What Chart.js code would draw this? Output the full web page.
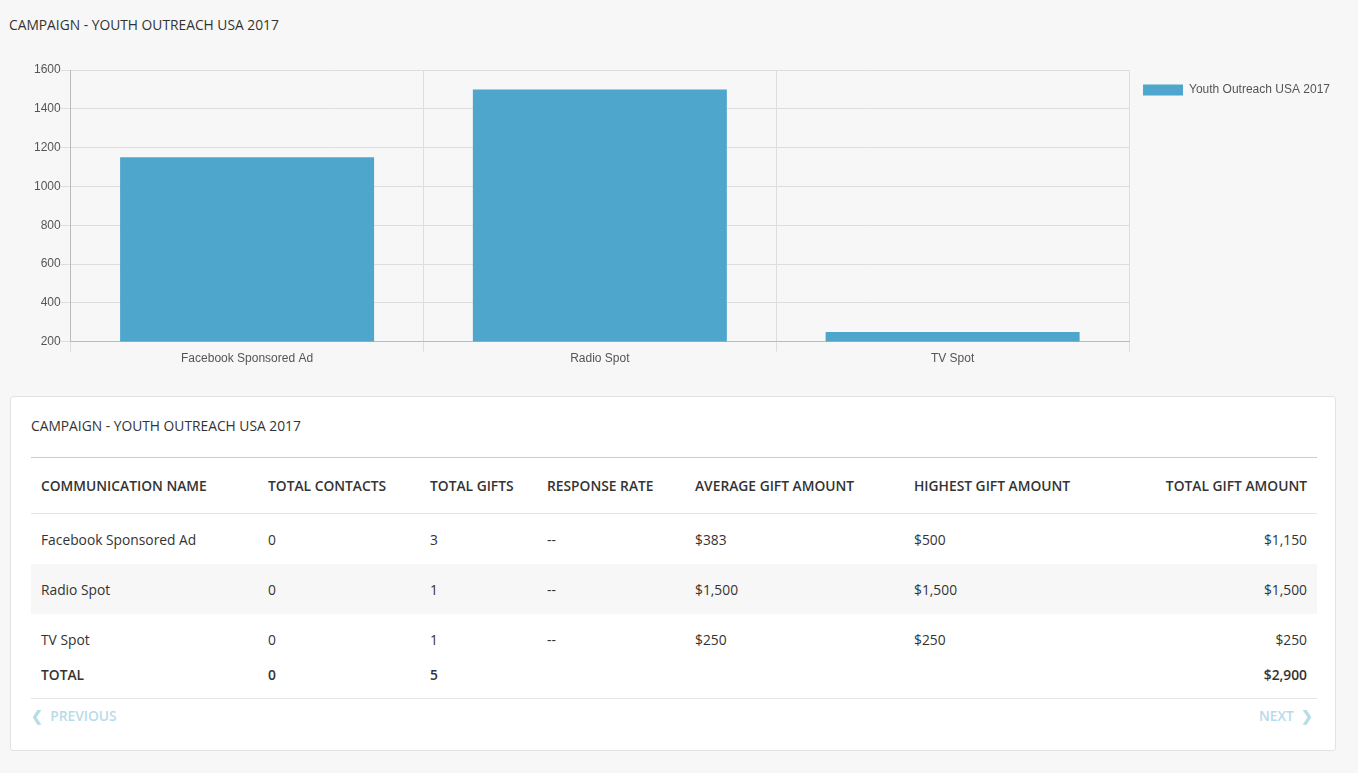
<!DOCTYPE html>
<html>
<head>
<meta charset="utf-8">
<script src="https://cdn.jsdelivr.net/npm/chart.js@4"></script>
<style>
  body { margin: 0; background: #f7f7f7; font-family: "Open Sans", sans-serif; color: #333; width: 1358px; height: 773px; position: relative; overflow: hidden; }
  .title { position: absolute; left: 9px; top: 15px; font-size: 13.8px; }
  #chartBox { position: absolute; left: 10px; top: 60px; width: 1330px; height: 306px; }
  .card { position: absolute; left: 10px; top: 396px; width: 1326px; height: 355px; background: #fff; border: 1px solid #e3e3e3; border-radius: 3px; box-sizing: border-box; }
  .card h3 { margin: 0; position: absolute; left: 20px; top: 19px; font-size: 13.8px; font-weight: normal; }
  table { position: absolute; left: 20px; top: 60px; width: 1286px; border-collapse: collapse; font-size: 13.8px; border-top: 1px solid #ccc; }
  th { text-align: left; font-weight: 600; height: 55px; padding: 0 10px; border-bottom: 1px solid #e5e5e5; white-space: nowrap; }
  td { height: 50px; padding: 0 10px; }
  tr.alt td { background: #f7f7f7; }
  tr.total td { font-weight: 600; height: 20px; padding-bottom: 4px; }
  .r { text-align: right; }
  .pager { position: absolute; left: 20px; top: 301px; width: 1286px; border-top: 1px solid #e5e5e5; font-size: 13.8px; color: #b7dbea; font-weight: 600; padding-top: 7px; }
  .pager .n { position: absolute; right: 4px; top: 7px; }
</style>
</head>
<body>
<div class="title">CAMPAIGN - YOUTH OUTREACH USA 2017</div>
<div id="chartBox"><canvas id="c"></canvas></div>
<div class="card">
  <h3>CAMPAIGN - YOUTH OUTREACH USA 2017</h3>
  <table id="tbl"></table>
  <div class="pager"><span>&#10094;&nbsp; PREVIOUS</span><span class="n">NEXT &nbsp;&#10095;</span></div>
</div>
<script>
const categories = ["Facebook Sponsored Ad", "Radio Spot", "TV Spot"];
const seriesName = "Youth Outreach USA 2017";
const giftTotals = [1150, 1500, 250];
const yTicks = [200, 400, 600, 800, 1000, 1200, 1400, 1600];

const headers = ["COMMUNICATION NAME", "TOTAL CONTACTS", "TOTAL GIFTS", "RESPONSE RATE", "AVERAGE GIFT AMOUNT", "HIGHEST GIFT AMOUNT", "TOTAL GIFT AMOUNT"];
const contacts = [0, 0, 0];
const gifts = [3, 1, 1];
const responseRate = ["--", "--", "--"];
const avgGift = ["$383", "$1,500", "$250"];
const highGift = ["$500", "$1,500", "$250"];
const totalGift = ["$1,150", "$1,500", "$250"];
const totalRow = ["TOTAL", "0", "5", "", "", "", "$2,900"];

// table
const widths = [227, 162, 117, 148, 219, 190, 223];
let html = "<tr>" + headers.map((h, i) => `<th class="${i == 6 ? 'r' : ''}" style="width:${widths[i] - 20}px">${h}</th>`).join("") + "</tr>";
categories.forEach((c, i) => {
  const cells = [c, contacts[i], gifts[i], responseRate[i], avgGift[i], highGift[i], totalGift[i]];
  html += `<tr class="${i == 1 ? 'alt' : ''}">` + cells.map((v, j) => `<td class="${j == 6 ? 'r' : ''}">${v}</td>`).join("") + "</tr>";
});
html += '<tr class="total">' + totalRow.map((v, j) => `<td class="${j == 6 ? 'r' : ''}">${v}</td>`).join("") + "</tr>";
document.getElementById("tbl").innerHTML = html;

Chart.defaults.font.family = "'Liberation Sans', Helvetica, Arial, sans-serif";
Chart.defaults.font.size = 12;
Chart.defaults.color = "#555";

new Chart(document.getElementById("c"), {
  type: "bar",
  data: {
    labels: categories,
    datasets: [{
      label: seriesName,
      data: giftTotals,
      backgroundColor: "#4fa6cd",
      categoryPercentage: 0.8,
      barPercentage: 0.9
    }]
  },
  options: {
    maintainAspectRatio: false,
    animation: false,
    layout: { padding: { top: 10, left: 24 } },
    plugins: {
      legend: {
        position: "right",
        align: "start",
        labels: { boxWidth: 40, boxHeight: 11, padding: 14, color: "#555" }
      },
      tooltip: { enabled: false }
    },
    scales: {
      y: {
        min: 200, max: 1600,
        afterBuildTicks: ax => { ax.ticks = yTicks.map(v => ({ value: v })); },
        grid: { color: "#ddd", tickLength: 10 },
        border: { color: "#bbb" },
        ticks: { padding: 0, callback: v => String(v) }
      },
      x: {
        grid: { color: "#ddd", offset: true, tickLength: 10 },
        border: { color: "#bbb" },
        ticks: { padding: 0 }
      }
    }
  }
});
</script>
</body>
</html>
